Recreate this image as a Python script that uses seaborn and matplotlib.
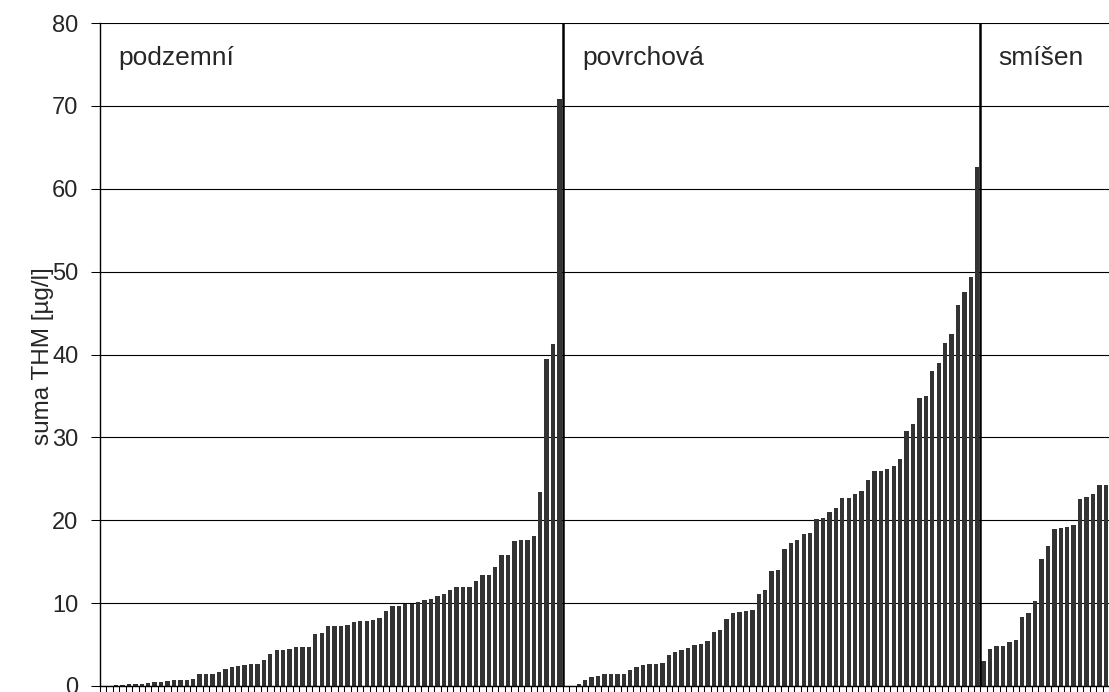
import matplotlib
matplotlib.use("Agg")
import matplotlib.pyplot as plt
import seaborn as sns
import pandas as pd
import numpy as np

# ---- data ----
groups = ["podzemní", "povrchová", "smíšen"]
podzemni = [0.05, 0.05, 0.1, 0.1, 0.2, 0.2, 0.25, 0.4, 0.5, 0.5, 0.6, 0.7, 0.75, 0.75,
            0.85, 1.4, 1.4, 1.5, 1.65, 2.0, 2.25, 2.4, 2.55, 2.6, 2.6, 3.1, 3.9, 4.3,
            4.4, 4.45, 4.75, 4.75, 4.75, 6.25, 6.4, 7.2, 7.2, 7.3, 7.4, 7.7, 7.9, 7.9,
            8.0, 8.2, 9.0, 9.6, 9.7, 9.95, 9.95, 10.1, 10.4, 10.45, 10.9, 11.1, 11.55,
            11.9, 11.9, 12.0, 12.7, 13.35, 13.4, 14.4, 15.75, 15.75, 17.5, 17.65, 17.65,
            18.1, 23.4, 39.4, 41.3, 70.8]
povrchova = [0.05, 0.05, 0.3, 0.7, 1.05, 1.25, 1.4, 1.4, 1.4, 1.45, 1.9, 2.35, 2.55, 2.7,
             2.7, 2.8, 3.8, 4.15, 4.4, 4.6, 4.95, 5.1, 5.45, 6.5, 6.8, 8.1, 8.85, 8.95,
             9.1, 9.2, 11.15, 11.6, 13.9, 14.0, 16.5, 17.3, 17.65, 18.3, 18.45, 20.1,
             20.3, 21.0, 21.5, 22.65, 22.7, 23.15, 23.5, 24.85, 26.0, 26.0, 26.15, 26.6,
             27.4, 30.75, 31.6, 34.8, 35.0, 37.95, 39.0, 41.4, 42.5, 46.0, 47.5, 49.3,
             62.6]
smisen = [2.98, 4.45, 4.8, 4.8, 5.35, 5.5, 8.3, 8.85, 10.3, 15.3, 16.9, 18.9, 19.1, 19.2,
          19.4, 22.6, 22.75, 23.2, 24.25, 24.3]
y_ticks = [0, 10, 20, 30, 40, 50, 60, 70, 80]
y_label = "suma THM [µg/l]"

values = podzemni + povrchova + smisen
group_col = ([groups[0]] * len(podzemni) + [groups[1]] * len(povrchova)
             + [groups[2]] * len(smisen))
df = pd.DataFrame({"idx": np.arange(len(values)), "value": values, "group": group_col})

sns.set_style("white")
plt.rcParams["font.family"] = ["Liberation Sans", "DejaVu Sans"]

W, H = 1109, 692
fig = plt.figure(figsize=(W / 100, H / 100), dpi=100)
left_px, top_px, bottom_px = 100, 23, 686
ax = fig.add_axes([left_px / W, (H - bottom_px) / H, 1 - left_px / W, (bottom_px - top_px) / H])

# grid lines behind bars
for yv in y_ticks:
    ax.axhline(yv, color="#000000", lw=0.8, zorder=0)

sns.barplot(data=df, x="idx", y="value", color="#333333", saturation=1,
            width=0.68, errorbar=None, ax=ax, zorder=2)
for p in ax.patches:
    p.set_edgecolor("none")

n = len(values)
ax.set_xlim(-0.5, n - 0.5)
ax.set_ylim(0, 80)

# group separators
b1 = len(podzemni) - 0.5
b2 = len(podzemni) + len(povrchova) - 0.5
for b in (b1, b2):
    ax.plot([b, b], [0, 80], color="#000000", lw=1.8, zorder=3, solid_capstyle="butt")

# group labels
px_per_slot = (W - left_px) / n
lab_y = 80 - (58 - top_px) / 8.2875
ax.text(-0.5 + 18 / px_per_slot, lab_y, groups[0], fontsize=19, ha="left", va="center")
ax.text(b1 + 19.5 / px_per_slot, lab_y, groups[1], fontsize=19, ha="left", va="center")
ax.text(b2 + 17.5 / px_per_slot, lab_y, groups[2], fontsize=19, ha="left", va="center")

# axes styling
ax.set_xticks(np.arange(-0.5, n + 0.5, 1.0))
ax.set_xticklabels([])
ax.tick_params(axis="x", direction="out", length=4.5, width=0.75, color="#000000", bottom=True)
ax.set_yticks(y_ticks)
ax.set_yticklabels([str(v) for v in y_ticks], fontsize=17)
ax.tick_params(axis="y", direction="out", length=6.5, width=0.75, color="#000000",
               pad=9, left=True)
ax.set_xlabel("")
ax.set_ylabel(y_label, fontsize=17.5)
ax.yaxis.set_label_coords((43 - left_px) / (W - left_px), (bottom_px - 356) / (bottom_px - top_px))
ax.yaxis.label.set_verticalalignment("center")

for s in ("top", "right"):
    ax.spines[s].set_visible(False)
ax.spines["left"].set_color("#000000")
ax.spines["left"].set_linewidth(1.0)
ax.spines["bottom"].set_color("#000000")
ax.spines["bottom"].set_linewidth(1.0)
ax.set_facecolor("white")
fig.patch.set_facecolor("white")

fig.savefig("out.png", dpi=100)
